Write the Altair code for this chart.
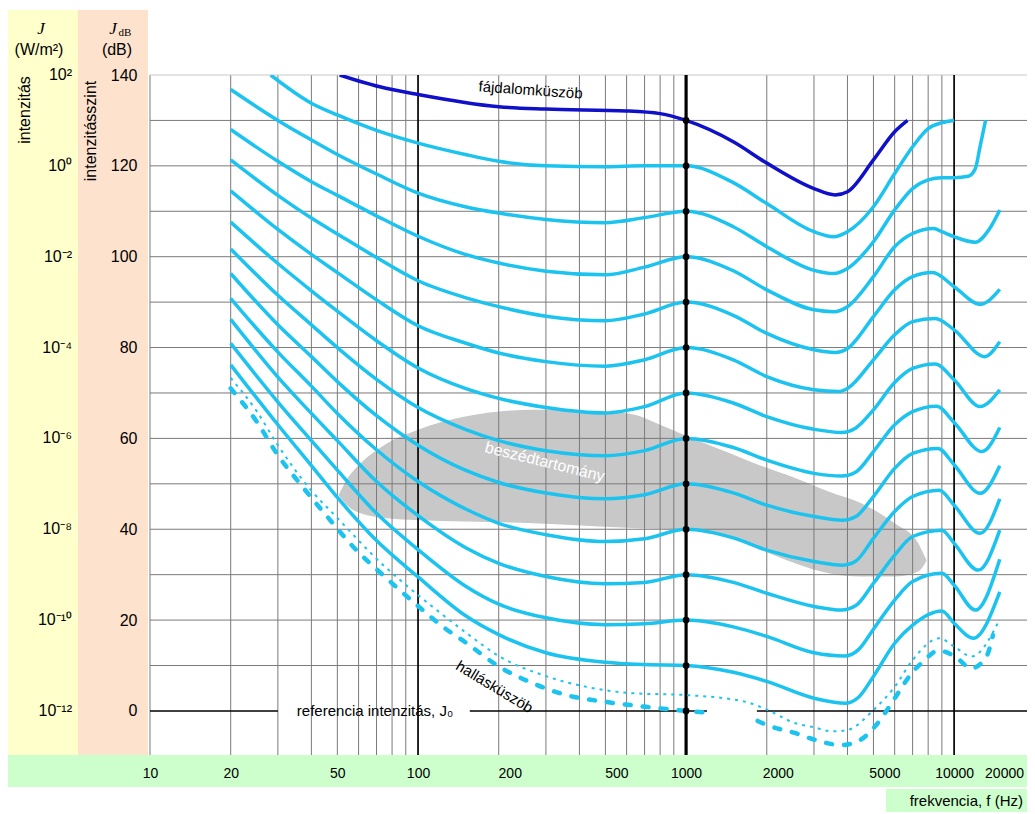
import altair as alt
import pandas as pd

FONT = "Liberation Sans, Arial, Helvetica, sans-serif"
NARROW = "Liberation Sans Narrow, Arial Narrow, Liberation Sans, Arial, sans-serif"
SERIF = "Liberation Serif, Times New Roman, serif"

CYAN = "#1cc3ef"
BLUE = "#1010c8"
GRID = "#7a7a7a"

X_DOMAIN = [10, 18700]
Y_DOMAIN = [-9.7, 140]

# ---------------- axes / grid ----------------
GRID_F = [10, 20, 30, 40, 50, 60, 70, 80, 90, 100, 200, 300, 400, 500, 600, 700, 800, 900,
          1000, 2000, 3000, 4000, 5000, 6000, 7000, 8000, 9000, 10000]
BOLD_F = [100, 1000, 10000]
BOLD_W = [1.6, 3.2, 1.6]
LABEL_F = [10, 20, 50, 100, 200, 500, 1000, 2000, 5000, 10000]
LABEL_SHIFTED = [200, 500, 2000, 5000]
LAST_LABEL = "20000"
GRID_DB = [10, 20, 30, 40, 50, 60, 70, 80, 90, 100, 110, 120, 130]
TOP_DB = [140]
LABEL_DB = [0, 20, 40, 60, 80, 100, 120, 140]
J_DB = [140, 120, 100, 80, 60, 40, 20, 0]
J_TEXT = ["10²", "10⁰", "10⁻²", "10⁻⁴", "10⁻⁶", "10⁻⁸", "10⁻¹⁰", "10⁻¹²"]
DOT_DB = [0, 10, 20, 30, 40, 50, 60, 70, 80, 90, 100, 110, 120, 130]
ZERO_F1 = [10, 156, 1837]
ZERO_F2 = [30, 1196, 18700]

# ---------------- equal-loudness curves (phon) ----------------
F_120 = [28.2, 40, 50, 70, 100, 150, 200, 300, 500, 700, 1000, 1500, 2000, 3000, 3550, 4000, 5000, 6000, 7000, 8000, 9000, 10000]
DB_120 = [140, 133.8, 131.2, 127.8, 125, 122.5, 121, 120, 119.8, 120, 120, 116.3, 111.7, 105.5, 104.4, 105.5, 111, 118.3, 124.2, 128.2, 129.5, 130]

F_110 = [20, 30, 40, 50, 70, 100, 150, 200, 300, 500, 700, 1000, 1500, 2000, 3000, 3550, 4000, 5000, 6000, 7000, 8000, 9000, 10000, 11300, 12000, 12500, 13100]
DB_110 = [136.8, 130, 125.7, 122.5, 118.2, 114, 111, 109.6, 108.2, 107.5, 108.6, 110, 106.6, 102.2, 97, 96.3, 97.4, 103.3, 110.3, 115, 116.9, 117.4, 117.4, 117.7, 119.4, 124.3, 130]

F_100 = [20, 30, 40, 50, 70, 100, 150, 200, 300, 500, 700, 1000, 1500, 2000, 3000, 3550, 4000, 5000, 6000, 7000, 8400, 9000, 10000, 12000, 13500, 14800]
DB_100 = [128, 121, 116.5, 113.5, 109, 104.5, 100.5, 98.6, 96.8, 96, 97.7, 100, 96.9, 92.7, 88.3, 87.9, 89, 95.6, 102.2, 105.1, 106.2, 105.5, 104.4, 103.2, 106, 110.3]

F_90 = [20, 30, 40, 50, 70, 100, 150, 200, 300, 500, 700, 1000, 1500, 2000, 3000, 3600, 4000, 5000, 6000, 7000, 8300, 10000, 12500, 14800]
DB_90 = [121.3, 113.5, 108.5, 105, 99.8, 94.7, 91, 89, 86.9, 85.9, 87.4, 90, 87.1, 83.1, 79.5, 78.9, 79.8, 86.8, 92.7, 95.6, 96.5, 93.4, 89.5, 92.8]

F_80 = [20, 30, 40, 50, 70, 100, 150, 200, 300, 500, 700, 1000, 1500, 2000, 3000, 3700, 4000, 5000, 6000, 7000, 8500, 10000, 13000, 14800]
DB_80 = [114.5, 106, 100.5, 96.5, 90.5, 84.8, 81, 78.8, 76.9, 75.9, 77.3, 80, 77.3, 73.6, 70.7, 70.3, 71, 77.3, 82.8, 85.7, 86.4, 83.9, 78, 81.3]

F_70 = [20, 30, 40, 50, 70, 100, 150, 200, 300, 500, 700, 1000, 1500, 2000, 3000, 3800, 4300, 5000, 6000, 7000, 8500, 10000, 12500, 14800]
DB_70 = [107.6, 98.5, 92.5, 88, 81.5, 75.5, 71, 68.8, 66.8, 65.6, 67, 70, 67.8, 64.8, 62, 61.3, 62.3, 66.3, 72.3, 75.4, 76.4, 72.9, 67, 70.7]

F_60 = [20, 30, 40, 50, 70, 100, 150, 200, 300, 500, 700, 1000, 1500, 2000, 3000, 3800, 4300, 5000, 6000, 7000, 8600, 10000, 12700, 14800]
DB_60 = [101.7, 91.5, 85, 80, 73, 66.8, 62, 59.5, 57.3, 56.2, 57.3, 60, 58, 55.2, 52.3, 51.7, 52.6, 57.1, 63, 65.9, 67.1, 63.5, 57.1, 62.4]

F_50 = [20, 30, 40, 50, 70, 100, 150, 200, 300, 500, 700, 1000, 1500, 2000, 3000, 3850, 4300, 5000, 6000, 7000, 8700, 10000, 12500, 14800]
DB_50 = [96.3, 85, 78, 72.5, 65, 58.5, 53, 50.3, 48, 46.7, 47.6, 50, 48, 45.3, 42.8, 42, 42.8, 47.2, 53.4, 56.7, 57.8, 54.2, 47.9, 54]

F_40 = [20, 30, 40, 50, 70, 100, 150, 200, 300, 500, 700, 1000, 1500, 2000, 3000, 3850, 4300, 5000, 6000, 7000, 8800, 10000, 12500, 14800]
DB_40 = [90.8, 79, 71.5, 65.5, 57.5, 50.5, 44.5, 41.3, 38.8, 37.3, 37.9, 40, 38.1, 35.4, 32.9, 32.1, 33, 38, 43.9, 47.2, 48.6, 45.3, 39.1, 46.7]

F_30 = [20, 30, 40, 50, 70, 100, 150, 200, 300, 500, 700, 1000, 1500, 2000, 3000, 3800, 4300, 5000, 6000, 7000, 9000, 10000, 12300, 14800]
DB_30 = [86.2, 73.5, 65.5, 59.5, 50.5, 43, 36, 32.5, 29.6, 28, 28.3, 30, 28.3, 25.9, 23, 22.2, 23.2, 28.1, 34.3, 38.4, 39.8, 36.9, 31, 39.8]

F_20 = [20, 30, 40, 50, 70, 100, 150, 200, 300, 500, 700, 1000, 1500, 2000, 3000, 3900, 4400, 5000, 6000, 7000, 9000, 10000, 12000, 14800]
DB_20 = [80.9, 68, 59.5, 53, 43.5, 35.5, 27.5, 23.5, 20.5, 19, 19.2, 20, 18.5, 16.4, 12.8, 12.1, 13.5, 18, 24.4, 28.5, 30.3, 27.7, 22.2, 33.4]

F_10 = [20, 30, 40, 50, 70, 100, 150, 200, 300, 500, 700, 1000, 1500, 2000, 3000, 3950, 4400, 5000, 6000, 7000, 9000, 10000, 11800, 14800]
DB_10 = [76.2, 63, 54, 47, 37.5, 29.5, 21, 16.8, 12.8, 10.7, 10.2, 10, 8.5, 6.5, 2.8, 1.7, 3, 7.6, 14.9, 18.9, 22, 19.3, 16, 26.2]

# pain threshold (fájdalomküszöb)
F_PAIN = [51, 72, 100, 200, 300, 600, 800, 1000, 1500, 2000, 3000, 3600, 4000, 5000, 6000, 6700]
DB_PAIN = [140, 137.4, 135.7, 133, 132.5, 132.1, 131.5, 130, 125.3, 120.6, 115, 113.6, 114.3, 121.3, 127.5, 130]

# hearing threshold (hallásküszöb), thick dashed, two visible pieces
F_HK1 = [20, 25, 30, 37, 45.8, 58, 74, 96, 126, 152, 200, 268, 357, 500, 710, 1000, 1150]
DB_HK1 = [71, 63.7, 56.3, 49.4, 42.8, 35.8, 29.9, 24, 18.2, 14.9, 9.8, 6.1, 3.5, 2, 0.9, 0, -0.3]
F_HK2 = [1850, 2000, 2560, 3000, 3800, 4460, 5070, 5590, 6190, 6940, 7670, 8730, 10070, 11600, 13200, 13960]
DB_HK2 = [-2.2, -3.1, -4.9, -6.3, -7.5, -6.4, -3.4, 0, 4, 8.3, 10.9, 13.3, 12, 9.4, 12, 16.7]

# second (thin dotted) threshold curve
F_THR = [20, 25, 30, 40, 50, 70, 100, 114, 152, 201, 292, 425, 630, 1000, 1670, 2000, 2560, 3000, 3500, 4000, 5000, 6000, 7000, 8800, 10000, 11600, 14800]
DB_THR = [73.3, 66, 58.5, 48.5, 42.5, 33.5, 25.5, 22.8, 17.1, 12, 7.9, 5.3, 3.9, 3.5, 2, 0.3, -2.7, -3.6, -4.5, -4.2, 0.2, 5.3, 11.2, 16, 14.2, 12, 20.2]

# speech area (beszédtartomány)
F_SPEECH = [50.5, 55, 61, 76.5, 100, 150, 270, 475, 630, 800, 1000, 1450, 1900, 2550, 3400, 4500, 6000, 7350, 7700, 7891]
TOP_SPEECH = [47.5, 51.5, 54.5, 58.9, 61.9, 64.8, 66.3, 65.9, 65.3, 63, 60.6, 56.8, 54, 51.3, 48.3, 45.7, 41.3, 36.9, 34.5, 33.2]
BOT_SPEECH = [47.5, 45, 43.5, 42.4, 42, 41.7, 41.3, 40.6, 40.3, 40.1, 39.9, 38.4, 35.5, 32.5, 30.3, 29.6, 29.6, 30.7, 32, 33.2]

# annotations
ANNOT_TEXT = ["fájdalomküszöb", "beszédtartomány", "hallásküszöb", "referencia intenzitás, J₀"]
ANNOT_F = [263, 297, 193, 69.1]
ANNOT_DB = [136.7, 54.8, 5.3, 0]
ANNOT_ANGLE = [4, 14, 31, 0]
ANNOT_COLOR = ["black", "white", "black", "black"]
ANNOT_SIZE = [15, 16, 15, 15]

# ---------------- build ----------------
PHON = [("p120", F_120, DB_120), ("p110", F_110, DB_110), ("p100", F_100, DB_100),
        ("p90", F_90, DB_90), ("p80", F_80, DB_80), ("p70", F_70, DB_70),
        ("p60", F_60, DB_60), ("p50", F_50, DB_50), ("p40", F_40, DB_40),
        ("p30", F_30, DB_30), ("p20", F_20, DB_20), ("p10", F_10, DB_10)]
phon_df = pd.DataFrame([{"curve": n, "f": f, "db": d} for n, fs, ds in PHON for f, d in zip(fs, ds)])
pain_df = pd.DataFrame({"f": F_PAIN, "db": DB_PAIN})
hk_df = pd.concat([pd.DataFrame({"seg": "a", "f": F_HK1, "db": DB_HK1}),
                   pd.DataFrame({"seg": "b", "f": F_HK2, "db": DB_HK2})])
thr_df = pd.DataFrame({"f": F_THR, "db": DB_THR})
speech_df = pd.DataFrame({"f": F_SPEECH, "top": TOP_SPEECH, "bot": BOT_SPEECH})
gridf_df = pd.DataFrame({"f": GRID_F})
bold_df = pd.DataFrame({"f": BOLD_F, "w": BOLD_W})
griddb_df = pd.DataFrame({"db": GRID_DB})
top_df = pd.DataFrame({"db": TOP_DB})
zero_df = pd.DataFrame({"f": ZERO_F1, "f2": ZERO_F2, "db": [0] * len(ZERO_F1)})
dots_df = pd.DataFrame({"f": [1000] * len(DOT_DB), "db": DOT_DB})
annot_df = pd.DataFrame({"t": ANNOT_TEXT, "f": ANNOT_F, "db": ANNOT_DB, "angle": ANNOT_ANGLE,
                         "color": ANNOT_COLOR, "size": ANNOT_SIZE})
j_df = pd.DataFrame({"db": J_DB, "t": J_TEXT})
blank = pd.DataFrame({"k": [0]})

xs = alt.Scale(type="log", domain=X_DOMAIN)
ys = alt.Scale(domain=Y_DOMAIN)

shift_test = "indexof(" + str(LABEL_SHIFTED) + ", datum.value) >= 0"
x_axis = alt.Axis(values=LABEL_F, title=None, domain=False, ticks=False, grid=False, zindex=5,
                  labelFont=NARROW, labelFontSize=14, labelColor="black", labelPadding=11,
                  labelFlush=False, labelOverlap=False, labelExpr="'' + datum.value",
                  labelOffset={"condition": {"test": shift_test, "value": 11}, "value": 0})
y_axis = alt.Axis(values=LABEL_DB, title=None, domain=False, ticks=False, grid=False, zindex=5,
                  labelFont=FONT, labelFontSize=16, labelColor="black", labelPadding=13,
                  labelFlush=False)


def X(field="f"):
    return alt.X(f"{field}:Q", scale=xs, axis=x_axis)


def Y(field="db"):
    return alt.Y(f"{field}:Q", scale=ys, axis=y_axis)


def box(x1, x2, y1, y2, color):
    return alt.Chart(blank).mark_rect(color=color).encode(
        x=alt.value(x1), x2=alt.value(x2), y=alt.value(y1), y2=alt.value(y2))


def label(txt, x, y, **kw):
    return alt.Chart(blank).mark_text(text=txt, **kw).encode(x=alt.value(x), y=alt.value(y))


layers = [
    box(-142, -72, -65, 680, "#ffffcc"),
    box(-72, -2, -65, 680, "#fde2ce"),
    box(-142, 877, 680, 712, "#ccffcc"),
    box(736, 877, 714, 737, "#ccffcc"),
    alt.Chart(speech_df).mark_area(color="#c8c8c8", interpolate="monotone").encode(
        x=X("f"), y=Y("top"), y2="bot:Q"),
    alt.Chart(gridf_df).mark_rule(color=GRID, strokeWidth=1).encode(x=X()),
    alt.Chart(griddb_df).mark_rule(color=GRID, strokeWidth=1).encode(y=Y()),
    alt.Chart(top_df).mark_rule(color="#c8c8c8", strokeWidth=1).encode(y=Y()),
    alt.Chart(bold_df).mark_rule(color="black").encode(x=X(), size=alt.Size("w:Q", scale=None, legend=None)),
    alt.Chart(zero_df).mark_rule(color="black", strokeWidth=1.6).encode(x=X(), x2="f2:Q", y=Y()),
    alt.Chart(phon_df).mark_line(color=CYAN, strokeWidth=3.5, interpolate="monotone", clip=True).encode(
        x=X(), y=Y(), detail="curve:N"),
    alt.Chart(thr_df).mark_line(color=CYAN, strokeWidth=2, strokeDash=[3, 5], interpolate="monotone", clip=True).encode(
        x=X(), y=Y()),
    alt.Chart(hk_df).mark_line(color=CYAN, strokeWidth=4.5, strokeDash=[6, 12], strokeCap="round",
                               interpolate="monotone", clip=True).encode(x=X(), y=Y(), detail="seg:N"),
    alt.Chart(pain_df).mark_line(color=BLUE, strokeWidth=3.5, interpolate="monotone", clip=True).encode(
        x=X(), y=Y()),
    alt.Chart(dots_df).mark_circle(size=45, color="black", opacity=1).encode(x=X(), y=Y()),
    alt.Chart(annot_df).mark_text(font=FONT, baseline="middle", align="center").encode(
        x=X(), y=Y(), text="t:N",
        angle=alt.Angle("angle:Q", scale=None),
        color=alt.Color("color:N", scale=None, legend=None),
        size=alt.Size("size:Q", scale=None, legend=None)),
    alt.Chart(j_df).mark_text(font=FONT, fontSize=16, align="right", baseline="middle", color="black").encode(
        x=alt.value(-78), y=Y(), text="t:N"),
    label(LAST_LABEL, 874, 699, font=NARROW, fontSize=14, color="black", baseline="middle", align="right"),
    label("J", -109, -46, font=SERIF, fontStyle="italic", fontSize=17, color="black"),
    label("(W/m²)", -111, -25, font=FONT, fontSize=16, color="black"),
    label("J", -37, -46, font=SERIF, fontStyle="italic", fontSize=17, color="black"),
    label("dB", -25, -42, font=SERIF, fontSize=11, color="black"),
    label("(dB)", -33, -25, font=FONT, fontSize=16, color="black"),
    label("intenzitás", -125, 35, font=FONT, fontSize=16, angle=270, color="black"),
    label("intenzitásszint", -59, 56, font=FONT, fontSize=16, angle=270, color="black"),
    label("frekvencia, f (Hz)", 873, 726, font=NARROW, fontSize=15, align="right", color="black"),
]

chart = alt.layer(*layers).properties(
    width=877, height=680,
    padding={"left": 142, "top": 67, "right": 0, "bottom": 59},
    autosize=alt.AutoSizeParams(type="none"),
).configure(background="white").configure_view(stroke=None)

chart.save("out.html", embed_options={"renderer": "svg", "actions": False})
